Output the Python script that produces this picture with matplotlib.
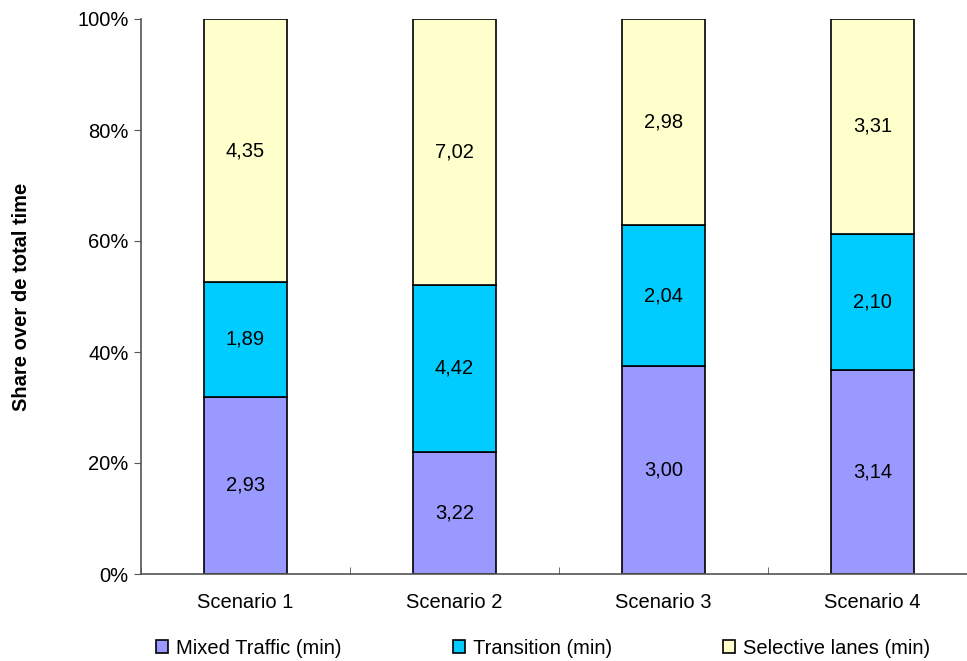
import matplotlib.pyplot as plt
import numpy as np

plt.rcParams['font.family'] = ['Liberation Sans', 'DejaVu Sans']

scenarios = ['Scenario 1', 'Scenario 2', 'Scenario 3', 'Scenario 4']
mixed = np.array([2.93, 3.22, 3.00, 3.14])
transition = np.array([1.89, 4.42, 2.04, 2.10])
selective = np.array([4.35, 7.02, 2.98, 3.31])

series = [mixed, transition, selective]
names = ['Mixed Traffic (min)', 'Transition (min)', 'Selective lanes (min)']
colors = ['#9999FF', '#00CCFF', '#FFFFCC']

total = mixed + transition + selective
x = np.arange(len(scenarios))

fig = plt.figure(figsize=(9.67, 6.61), dpi=100)
ax = fig.add_axes([141 / 967, 1 - 574 / 661, 836 / 967, 555 / 661])

bottom = np.zeros(len(scenarios))
for vals, name, col in zip(series, names, colors):
    share = vals / total * 100
    ax.bar(x, share, 0.4, bottom=bottom, color=col, edgecolor='black', linewidth=1.2, label=name)
    for xi, b, s, v in zip(x, bottom, share, vals):
        ax.text(xi, b + s / 2, f'{v:.2f}'.replace('.', ','), ha='center', va='center', fontsize=14.5)
    bottom += share

ax.set_xlim(-0.5, 3.5)
ax.set_ylim(0, 100)
ax.set_yticks(np.arange(0, 101, 20))
ax.set_yticklabels([f'{v}%' for v in range(0, 101, 20)], fontsize=14.5)
ax.set_xticks(x)
ax.set_xticklabels(scenarios, fontsize=14.5)
ax.set_xticks(np.arange(-0.5, 3.6, 1), minor=True)
ax.tick_params(axis='x', which='major', length=0, pad=14)
ax.tick_params(axis='x', which='minor', length=5, direction='in', color='#555555')
ax.tick_params(axis='y', length=5, color='#555555', pad=4)
for s in ['top', 'right']:
    ax.spines[s].set_visible(False)
for s in ['left', 'bottom']:
    ax.spines[s].set_color('#555555')
    ax.spines[s].set_linewidth(1.2)

ax.set_ylabel('Share over de total time', fontsize=14.5, fontweight='bold', labelpad=33)

ax.legend(loc='center', bbox_to_anchor=(543 / 967, 13 / 661), bbox_transform=fig.transFigure,
          ncol=3, frameon=False, fontsize=14.5, handlelength=0.6, handleheight=0.6,
          handletextpad=0.4, columnspacing=5.5)

fig.savefig('out.png', dpi=100)
